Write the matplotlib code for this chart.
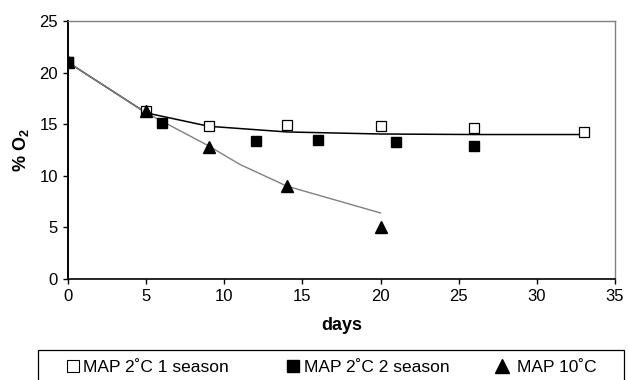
import matplotlib
matplotlib.use("Agg")
import matplotlib.pyplot as plt
from matplotlib.lines import Line2D
from matplotlib.patches import Rectangle

plt.rcParams['font.family'] = ['Liberation Sans', 'DejaVu Sans']
plt.rcParams['mathtext.fontset'] = 'custom'
plt.rcParams['mathtext.rm'] = 'Liberation Sans'
plt.rcParams['mathtext.bf'] = 'Liberation Sans:bold'

# measured points
days_1s = [0, 5, 9, 14, 20, 26, 33]
o2_1s = [21.0, 16.3, 14.8, 14.9, 14.8, 14.6, 14.2]
days_2s = [0, 6, 12, 16, 21, 26]
o2_2s = [21.0, 15.1, 13.4, 13.5, 13.3, 12.9]
days_10 = [0, 5, 9, 14, 20]
o2_10 = [21.0, 16.3, 12.8, 9.0, 5.0]

# model / trend curves
model_2c_days = [0, 5, 9, 14, 20, 26, 33]
model_2c_o2 = [21.0, 16.1, 14.8, 14.25, 14.05, 14.0, 14.0]
model_10_days = [0, 5, 9, 11, 14, 17, 20]
model_10_o2 = [21.0, 16.1, 12.9, 11.1, 9.0, 7.7, 6.4]

labels = ["MAP 2\u02daC 1 season", "MAP 2\u02daC 2 season", "MAP 10\u02daC"]
xticks = [0, 5, 10, 15, 20, 25, 30, 35]
yticks = [0, 5, 10, 15, 20, 25]

W, H = 628, 380
fig = plt.figure(figsize=(W/100, H/100), dpi=100)
ax = fig.add_axes([68/W, 1-279/H, (615-68)/W, (279-21)/H])

ax.plot(model_2c_days, model_2c_o2, color='black', lw=1.1, zorder=2)
ax.plot(model_10_days, model_10_o2, color='#808080', lw=1.0, zorder=2)

ax.plot(days_1s, o2_1s, ls='none', marker='s', ms=7.8, mfc='white', mec='black', mew=0.9, zorder=3)
ax.plot(days_2s, o2_2s, ls='none', marker='s', ms=7.8, mfc='black', mec='black', zorder=4)
ax.plot(days_10, o2_10, ls='none', marker='^', ms=9.3, mfc='black', mec='black', zorder=5)

ax.set_xlim(0, 35)
ax.set_ylim(0, 25)
ax.set_xticks(xticks)
ax.set_yticks(yticks)
ax.tick_params(direction='out', length=3.6, width=1, labelsize=12, pad=3.6)
for s in ['top', 'right']:
    ax.spines[s].set_color('#808080')
    ax.spines[s].set_linewidth(1.0)
ax.spines['left'].set_linewidth(1.4)
ax.spines['bottom'].set_linewidth(1.2)

ax.set_xlabel('days', fontsize=13, fontweight='bold', labelpad=9)
ax.set_ylabel('% O$_\\mathbf{2}$', fontsize=13, fontweight='bold', labelpad=6)

# legend box (bottom edge runs off the figure, as in the reference)
fig.add_artist(Rectangle((38/W, -5/H), (624-38)/W, (380-350+5)/H,
                         transform=fig.transFigure, fill=False, edgecolor='black', lw=0.9))
ybase = 1 - 372/H
ymark = 1 - 366/H
fig.add_artist(Line2D([73/W], [ymark], transform=fig.transFigure, ls='none', marker='s', ms=9,
                      mfc='white', mec='black', mew=0.8))
fig.add_artist(Line2D([293/W], [ymark], transform=fig.transFigure, ls='none', marker='s', ms=8,
                      mfc='black', mec='black'))
fig.add_artist(Line2D([501.5/W], [ymark], transform=fig.transFigure, ls='none', marker='^', ms=9.5,
                      mfc='black', mec='black'))
for xpos, lab in zip([83, 304, 517], labels):
    fig.text(xpos/W, ybase, lab, fontsize=12.5, ha='left', va='baseline')

fig.savefig('out.png', dpi=100)
